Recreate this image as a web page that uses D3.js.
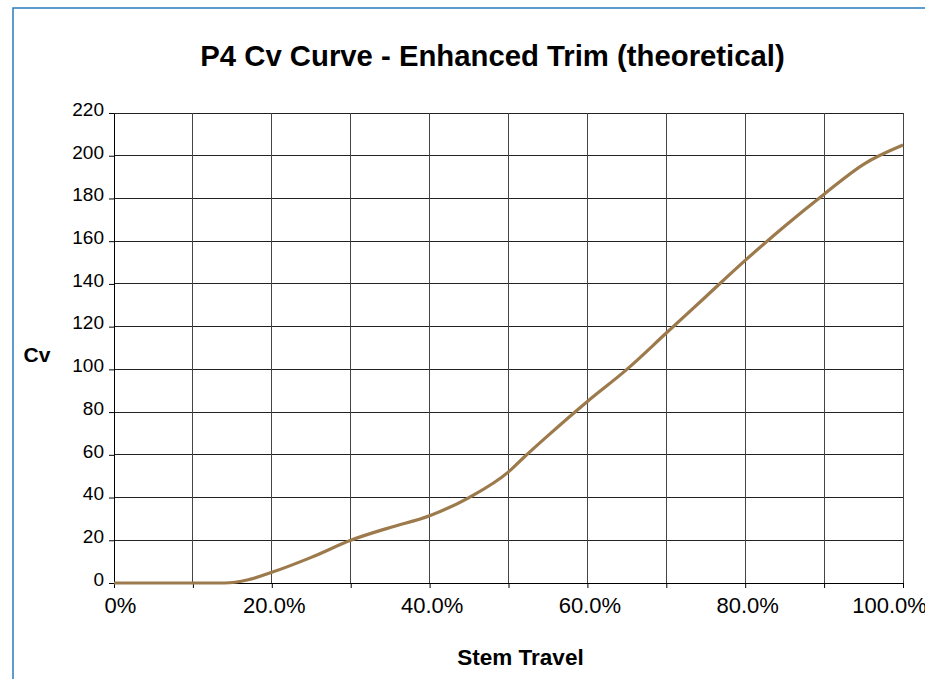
<!DOCTYPE html>
<html><head><meta charset="utf-8">
<script src="https://cdn.jsdelivr.net/npm/d3@7"></script>
<style>
html,body{margin:0;padding:0;background:#fff;}
svg{display:block;font-family:"Liberation Sans",Arial,sans-serif;}
</style></head>
<body>
<svg id="chart" width="925" height="679"></svg>
<script>
const titleText = "P4 Cv Curve - Enhanced Trim (theoretical)";
const xLabel = "Stem Travel";
const yLabel = "Cv";
const stemTravel = [0, 0.05, 0.10, 0.14, 0.17, 0.20, 0.25, 0.30, 0.35, 0.40, 0.45, 0.50, 0.52, 0.55, 0.60, 0.65, 0.70, 0.75, 0.80, 0.85, 0.90, 0.95, 1.00];
const cvValues   = [0, 0, 0, 0, 1.5, 5, 12, 20, 26, 31.5, 40, 52, 59, 69, 85, 100, 117, 134, 151, 167, 182, 196, 205];
const xTicks = [0, 0.1, 0.2, 0.3, 0.4, 0.5, 0.6, 0.7, 0.8, 0.9, 1.0];
const yTicks = [0, 20, 40, 60, 80, 100, 120, 140, 160, 180, 200, 220];

const svg = d3.select("#chart");
const mLeft = 114, mRight = 903, mTop = 113, mBottom = 583;

// outer border
svg.append("rect").attr("x", 13).attr("y", 8).attr("width", 1000).attr("height", 1000)
  .attr("fill", "none").attr("stroke", "#2a7bc0").attr("stroke-width", 1.5);

const x = d3.scaleLinear().domain([0, 1]).range([mLeft, mRight]);
const y = d3.scaleLinear().domain([0, 220]).range([mBottom, mTop]);

// gridlines
const grid = svg.append("g").attr("shape-rendering", "crispEdges");
grid.selectAll("line.h").data(yTicks).join("line").attr("class", "h")
  .attr("x1", mLeft).attr("x2", mRight).attr("y1", d => y(d)).attr("y2", d => y(d))
  .attr("stroke", "#222").attr("stroke-width", 1);
grid.selectAll("line.v").data(xTicks).join("line").attr("class", "v")
  .attr("y1", mTop).attr("y2", mBottom).attr("x1", d => x(d)).attr("x2", d => x(d))
  .attr("stroke", "#444").attr("stroke-width", 1);

// axes
const fmt = d => d === 0 ? "0%" : d3.format(".1%")(d);
const xAxis = d3.axisBottom(x).tickValues(xTicks)
  .tickFormat(d => (Math.round(d * 10) % 2 === 0) ? fmt(d) : "")
  .tickSize(5).tickSizeOuter(0).tickPadding(9);
const gx = svg.append("g").attr("transform", `translate(0,${mBottom})`).call(xAxis);
gx.selectAll("text").attr("font-size", 22).attr("fill", "#000")
  .attr("font-family", "Liberation Sans, Arial, sans-serif")
  .attr("dx", d => d === 0 ? 6 : (d === 1 ? -14 : 2));
gx.selectAll("line").attr("stroke", "#000");
gx.select(".domain").attr("stroke", "#000");

const yAxis = d3.axisLeft(y).tickValues(yTicks).tickSize(5).tickSizeOuter(0).tickPadding(5);
const gy = svg.append("g").attr("transform", `translate(${mLeft},0)`).call(yAxis);
gy.selectAll("text").attr("font-size", 19).attr("fill", "#000")
  .attr("font-family", "Liberation Sans, Arial, sans-serif").attr("dy", "0.12em");
gy.selectAll("line").attr("stroke", "#000");
gy.select(".domain").attr("stroke", "#000");

// curve
const data = stemTravel.map((s, i) => ({s, v: cvValues[i]}));
const line = d3.line().x(d => x(d.s)).y(d => y(d.v)).curve(d3.curveMonotoneX);
svg.append("path").datum(data).attr("d", line)
  .attr("fill", "none").attr("stroke", "#9c7a4c").attr("stroke-width", 3.2)
  .attr("stroke-linejoin", "round");

// titles
svg.append("text").attr("x", 492.5).attr("y", 66).attr("text-anchor", "middle")
  .attr("font-size", 29.3).attr("font-weight", "bold").text(titleText);
svg.append("text").attr("x", 520.5).attr("y", 665).attr("text-anchor", "middle")
  .attr("font-size", 22.5).attr("font-weight", "bold").text(xLabel);
svg.append("text").attr("x", 37).attr("y", 362).attr("text-anchor", "middle")
  .attr("font-size", 21).attr("font-weight", "bold").text(yLabel);
</script>
</body></html>
